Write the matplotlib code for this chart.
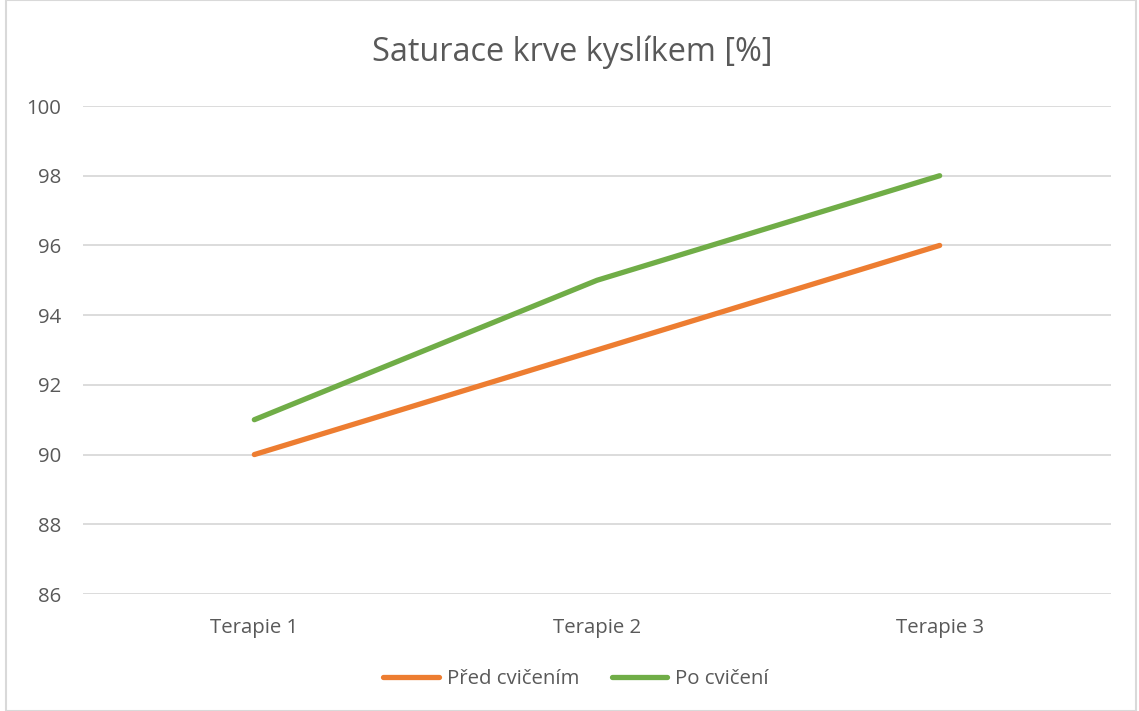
import matplotlib.pyplot as plt
from matplotlib.patches import Rectangle

# Data
kategorie = ['Terapie 1', 'Terapie 2', 'Terapie 3']
pred_cvicenim = [90, 93, 96]
po_cviceni = [91, 95, 98]
y_ticks = [86, 88, 90, 92, 94, 96, 98, 100]

plt.rcParams['font.family'] = ['Open Sans', 'DejaVu Sans']

fig = plt.figure(figsize=(11.39, 7.11), dpi=100)
ax = fig.add_axes([83 / 1139, 1 - 594 / 711, 1028 / 1139, 488 / 711])

x = range(len(kategorie))
ax.plot(x, pred_cvicenim, color='#ED7D31', lw=3.8, solid_capstyle='round', label='Před cvičením')
ax.plot(x, po_cviceni, color='#70AD47', lw=3.8, solid_capstyle='round', label='Po cvičení')

ax.set_xlim(-0.5, 2.5)
ax.set_ylim(86, 100)
ax.set_yticks(y_ticks)
ax.set_xticks(list(x))
ax.set_xticklabels(kategorie)
ax.grid(axis='y', color='#D9D9D9', lw=1.3)
ax.set_axisbelow(True)
for s in ax.spines.values():
    s.set_visible(False)
ax.tick_params(length=0, labelsize=14.7, colors='#595959')
ax.tick_params(axis='x', pad=17)
ax.tick_params(axis='y', pad=16)

fig.text(572 / 1139, 1 - 52 / 711, 'Saturace krve kyslíkem [%]', ha='center', va='center',
         fontsize=23.4, color='#595959')

# legenda pod grafem
fig.legend(loc='center', bbox_to_anchor=(576 / 1139, 1 - 679 / 711), ncol=2, frameon=False,
           fontsize=14.7, labelcolor='#595959', handlelength=2.7, columnspacing=1.6, handletextpad=0.4)

fig.add_artist(Rectangle((6 / 1139, 0), 1130 / 1139, 1, transform=fig.transFigure,
                         fill=False, edgecolor='#D9D9D9', lw=1.5))

fig.savefig('out.png', dpi=100)
